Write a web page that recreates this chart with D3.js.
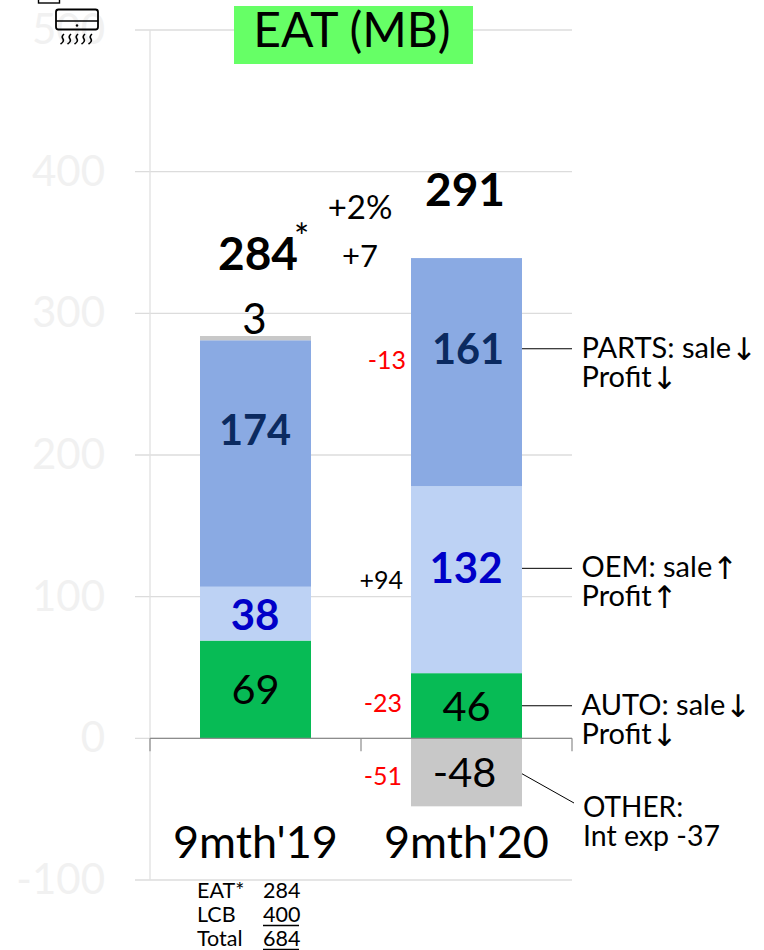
<!DOCTYPE html>
<html><head><meta charset="utf-8">
<script src="https://cdn.jsdelivr.net/npm/d3@7"></script>
<style>html,body{margin:0;padding:0;background:#fff}svg{display:block}text{font-family:Lato,"Open Sans",sans-serif}.arr{font-family:"DejaVu Sans"}</style>
</head><body><svg id="c" width="764" height="950"></svg>
<script>
const categories = ["9mth'19", "9mth'20"];
const auto = [69, 46];
const oem = [38, 132];
const parts = [174, 161];
const other = [3, -48];
const totals = [284, 291];
const yTicks = [-100, 0, 100, 200, 300, 400, 500];
const changes = [-23, 94, -13, -51];
const changeLabels = ["-23", "+94", "-13", "-51"];
const segColors = {AUTO:"#07bb55", OEM:"#bdd2f4", PARTS:"#8aaae3", OTHER:"#c8c8c8"};
const segText = {AUTO:"#000", OEM:"#0000c8", PARTS:"#0b2a60", OTHER:"#000"};
const segWeight = {AUTO:400, OEM:700, PARTS:700, OTHER:400};
// label anchor levels (chart units) where labels are not centred in their segment
const partsLabelLevel = [218, 275];
const oemLabelLevel = [87, 120];
const notes = [
  {seg:"PARTS", l1:"PARTS: sale", a1:"↓", l2:"Profit", a2:"↓"},
  {seg:"OEM", l1:"OEM: sale", a1:"↑", l2:"Profit", a2:"↑"},
  {seg:"AUTO", l1:"AUTO: sale", a1:"↓", l2:"Profit", a2:"↓"}
];
const tableRows = [["EAT*", "284"], ["LCB", "400"], ["Total", "684"]];

const svg = d3.select("#c");
const y = d3.scaleLinear().domain([-100, 500]).range([880, 30]);
const x = d3.scaleBand().domain(categories).range([150, 572]).paddingInner(0).paddingOuter(0);
const barW = 111;
const bx = c => x(c) + (x.bandwidth() - barW) / 2;

svg.append("g").selectAll("line").data(yTicks).join("line")
  .attr("x1", 135).attr("x2", 572).attr("y1", d => y(d)).attr("y2", d => y(d))
  .attr("stroke", "#dcdcdc").attr("stroke-width", 1.3);
svg.append("line").attr("x1", 150).attr("x2", 150).attr("y1", y(500)).attr("y2", y(-100))
  .attr("stroke", "#e0e0e0").attr("stroke-width", 1.3);
svg.append("g").selectAll("text").data(yTicks).join("text")
  .attr("x", 105).attr("y", d => y(d) + 14).attr("text-anchor", "end")
  .attr("font-size", 42).attr("fill", "#f1f1f1").text(d => d);

const stack = [];
categories.forEach((c, i) => {
  let b = 0;
  [["AUTO", auto[i]], ["OEM", oem[i]], ["PARTS", parts[i]]].forEach(([s, v]) => {
    let lv = (b + b + v) / 2;
    if (s === "PARTS") lv = partsLabelLevel[i];
    if (s === "OEM") lv = oemLabelLevel[i];
    stack.push({c, s, y0: b, y1: b + v, v, lv}); b += v;
  });
  if (other[i] >= 0) stack.push({c, s:"OTHER", y0:b, y1:b + other[i], v:other[i], lv:b});
  else stack.push({c, s:"OTHER", y0:other[i], y1:0, v:other[i], lv:other[i] / 2});
});
svg.append("g").selectAll("rect").data(stack).join("rect")
  .attr("x", d => bx(d.c)).attr("width", barW)
  .attr("y", d => y(d.y1)).attr("height", d => y(d.y0) - y(d.y1))
  .attr("fill", d => segColors[d.s]);

svg.append("line").attr("x1", 150).attr("x2", 572).attr("y1", y(0)).attr("y2", y(0)).attr("stroke", "#8c8c8c").attr("stroke-width", 1.2);
svg.append("g").selectAll("line").data([150, 361, 572]).join("line")
  .attr("x1", d => d).attr("x2", d => d).attr("y1", y(0)).attr("y2", y(0) + 13)
  .attr("stroke", "#8c8c8c").attr("stroke-width", 1.2);

const labelDx = {"AUTO":0, "OEM":-0.5, "PARTS":-0.5, "OTHER":-2};
svg.append("g").selectAll("text").data(stack.filter(d => d.s !== "OTHER" || d.v < 0)).join("text")
  .attr("x", d => bx(d.c) + barW / 2 + labelDx[d.s] + (d.s === "PARTS" && d.c === categories[1] ? 2 : 0))
  .attr("y", d => y(d.lv) + 15)
  .attr("text-anchor", "middle").attr("font-size", d => d.s === "OEM" ? 42 : 41.5)
  .attr("font-weight", d => segWeight[d.s]).attr("fill", d => segText[d.s]).text(d => d.v);
svg.append("text").attr("x", bx(categories[0]) + barW / 2 - 1).attr("y", y(284) - 2).attr("text-anchor", "middle")
  .attr("font-size", 42).text(other[0]);

svg.append("g").selectAll("text").data(categories).join("text")
  .attr("x", d => x(d) + x.bandwidth() / 2).attr("y", 858).attr("text-anchor", "middle")
  .attr("font-size", 45).text(d => d);

svg.append("text").attr("x", 258).attr("y", 270).attr("text-anchor", "middle").attr("font-size", 46).attr("font-weight", 700).text(totals[0]);
svg.append("text").attr("x", 294).attr("y", 250).attr("font-size", 36).text("*");
svg.append("text").attr("x", 465).attr("y", 206).attr("text-anchor", "middle").attr("font-size", 46).attr("font-weight", 700).text(totals[1]);
svg.append("text").attr("x", 360).attr("y", 219).attr("text-anchor", "middle").attr("font-size", 33).text("+2%");
svg.append("text").attr("x", 360).attr("y", 267).attr("text-anchor", "middle").attr("font-size", 31).text("+" + (totals[1] - totals[0]));

const changeY = [704, 581, 361, 777];
const changeX = [402, 403, 406, 402];
svg.append("g").selectAll("text").data(changes).join("text")
  .attr("x", (d, i) => changeX[i]).attr("y", (d, i) => changeY[i] + 8).attr("text-anchor", "end")
  .attr("font-size", 25).attr("fill", d => d < 0 ? "#ff0000" : "#000")
  .text((d, i) => changeLabels[i]);

svg.append("rect").attr("x", 234).attr("y", 6).attr("width", 239).attr("height", 58).attr("fill", "#66ff66");
svg.append("text").attr("x", 352).attr("y", 47).attr("text-anchor", "middle").attr("font-size", 48).text("EAT (MB)");

const seg2 = s => stack.find(d => d.c === categories[1] && d.s === s);
notes.forEach(n => {
  const ly = y(seg2(n.seg).lv);
  svg.append("line").attr("x1", 522).attr("x2", 572).attr("y1", ly).attr("y2", ly).attr("stroke", "#000").attr("stroke-width", 1);
  const t1 = svg.append("text").attr("x", 581.5).attr("y", ly + 9).attr("font-size", 29).text(n.l1);
  t1.append("tspan").attr("class", "arr").attr("font-size", 31).attr("dy", 2).text(n.a1);
  const t2 = svg.append("text").attr("x", 581.5).attr("y", ly + 38).attr("font-size", 29).text(n.l2);
  t2.append("tspan").attr("class", "arr").attr("font-size", 31).attr("dy", 2).text(n.a2);
});
svg.append("line").attr("x1", 522).attr("y1", y(-25)).attr("x2", 574).attr("y2", 803).attr("stroke", "#000").attr("stroke-width", 1);
svg.append("text").attr("x", 583).attr("y", 817).attr("font-size", 28).text("OTHER:");
svg.append("text").attr("x", 583).attr("y", 846).attr("font-size", 28.5).text("Int exp -37");

tableRows.forEach((r, i) => {
  const ty = 898 + i * 24;
  svg.append("text").attr("x", 197).attr("y", ty).attr("font-size", 21.5).text(r[0]);
  svg.append("text").attr("x", 263).attr("y", ty).attr("font-size", 21.5).text(r[1]);
  if (i > 0) svg.append("line").attr("x1", 263).attr("x2", 299).attr("y1", ty + 3.5).attr("y2", ty + 3.5).attr("stroke", "#000").attr("stroke-width", 1.3);
});

const ic = svg.append("g").attr("fill", "none").attr("stroke", "#000");
ic.append("rect").attr("x", 38.5).attr("y", -4).attr("width", 21).attr("height", 7).attr("stroke-width", 1.4);
ic.append("rect").attr("x", 56).attr("y", 9.5).attr("width", 42).attr("height", 20).attr("rx", 2.5).attr("stroke-width", 1.8);
ic.append("line").attr("x1", 56).attr("x2", 98).attr("y1", 21).attr("y2", 21).attr("stroke-width", 1.5);
ic.append("circle").attr("cx", 77).attr("cy", 25.5).attr("r", 1.2).attr("fill", "#000").attr("stroke", "none");
[62, 69, 76, 83, 90].forEach(px => {
  ic.append("path").attr("d", `M${px + 2} 34 q-3 2.5 -1 5 q1.5 2.5 -2.5 5`).attr("stroke-width", 1.6);
});
</script></body></html>
